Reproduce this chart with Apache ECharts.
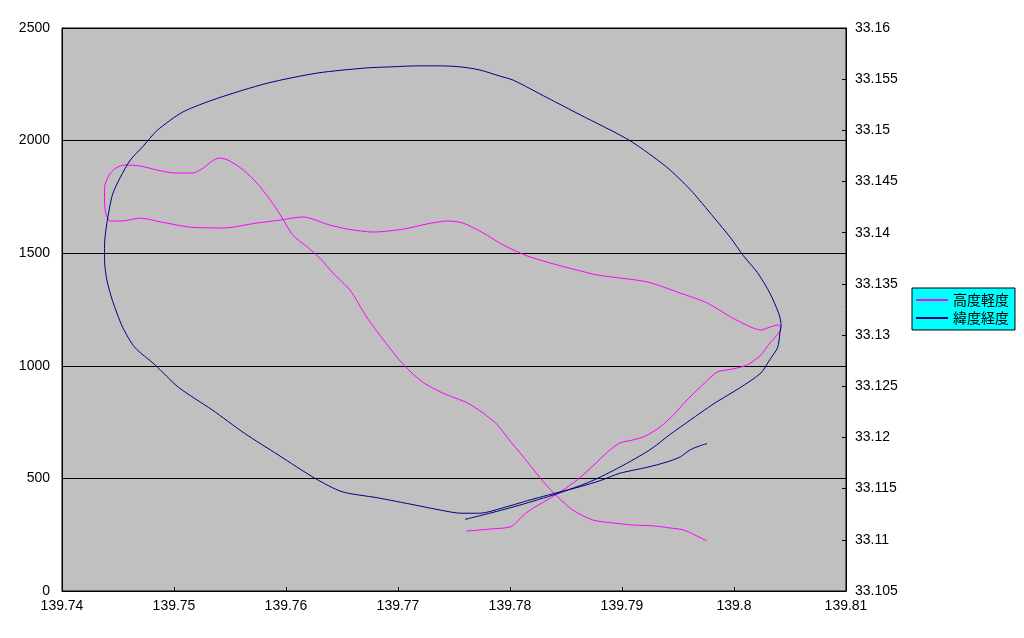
<!DOCTYPE html>
<html>
<head>
<meta charset="utf-8">
<script src="https://cdn.jsdelivr.net/npm/echarts@6/dist/echarts.min.js"></script>
<style>
html,body{margin:0;padding:0;background:#fff;}
#chart{width:1024px;height:638px;}
</style>
</head>
<body>
<div id="chart"></div>
<script>
// Series names
const seriesNames = ['高度軽度', '緯度経度'];

// Altitude vs longitude (left axis)
const altLon = [139.7761,139.7782,139.7800,139.7806,139.7812,139.7821,139.7830,139.7839,139.7845,139.7860,139.7874,139.7887,139.7898,139.7910,139.7921,139.7934,139.7946,139.7958,139.7970,139.7985,139.7999,139.8012,139.8024,139.8032,139.8040,139.8042,
139.8039,139.8032,139.8024,139.8015,139.7997,139.7976,139.7952,139.7923,139.7898,139.7878,139.7860,139.7842,139.7818,139.7809,139.7794,139.7776,139.7758,139.7744,139.7726,139.7705,139.7678,139.7655,139.7639,139.7615,139.7595,139.7574,139.7544,139.7514,139.7488,139.7470,139.7454,139.7443,139.7439,139.7438,139.7438,139.7442,139.7448,139.7456,139.7470,139.7485,139.7501,139.7517,139.7526,139.7534,139.7541,139.7550,139.7562,139.7574,139.7586,139.7595,139.7606,139.7619,139.7630,139.7642,139.7657,139.7672,139.7687,139.7705,139.7722,139.7740,139.7762,139.7776,139.7789,139.7798,139.7812,139.7827,139.7839,139.7856,139.7874,139.7892,139.7910,139.7928,139.7943,139.7955,139.7965,139.7976];
const altValues = [266,275,284,306,337,369,395,422,440,493,555,617,657,671,688,728,782,848,906,972,986,1004,1048,1101,1146,1172,
1181,1172,1159,1172,1217,1279,1323,1372,1390,1403,1425,1448,1483,1501,1536,1590,1634,1643,1630,1607,1594,1607,1625,1661,1647,1634,1612,1616,1639,1656,1643,1643,1679,1736,1790,1847,1878,1892,1887,1869,1856,1856,1878,1909,1923,1909,1869,1812,1736,1670,1581,1528,1479,1412,1337,1217,1115,1004,928,879,835,790,737,679,595,502,435,360,315,302,293,289,280,271,249,222];

// Latitude vs longitude (right axis)
const latLon = [139.7760,139.7782,139.7809,139.7842,139.7872,139.7898,139.7925,139.7943,139.7961,139.7982,139.8006,139.8024,139.8032,139.8039,139.8041,139.8042,139.8040,139.8032,139.8021,139.8008,139.7997,139.7982,139.7961,139.7940,139.7907,139.7863,139.7833,139.7803,139.7791,139.7773,139.7756,139.7738,139.7717,139.7693,139.7672,139.7628,139.7583,139.7538,139.7508,139.7485,139.7472,139.7461,139.7452,139.7445,139.7440,139.7438,139.7438,139.7440,139.7445,139.7454,139.7465,139.7483,139.7504,139.7534,139.7563,139.7593,139.7626,139.7650,139.7682,139.7715,139.7738,139.7756,139.7773,139.7796,139.7818,139.7842,139.7863,139.7881,139.7898,139.7923,139.7940,139.7952,139.7961,139.7970,139.7976];
const latValues = [33.1120,33.1126,33.1134,33.1145,33.1157,33.1171,33.1188,33.1203,33.1217,33.1233,33.1249,33.1263,33.1276,33.1288,33.1302,33.1310,33.1321,33.1341,33.1361,33.1378,33.1395,33.1415,33.1442,33.1464,33.1490,33.1515,33.1532,33.1549,33.1553,33.1559,33.1562,33.1563,33.1563,33.1562,33.1561,33.1556,33.1546,33.1531,33.1518,33.1500,33.1484,33.1471,33.1454,33.1437,33.1409,33.1388,33.1373,33.1354,33.1334,33.1308,33.1288,33.1271,33.1249,33.1227,33.1204,33.1183,33.1160,33.1147,33.1141,33.1134,33.1129,33.1126,33.1126,33.1132,33.1139,33.1146,33.1152,33.1158,33.1165,33.1171,33.1176,33.1181,33.1188,33.1192,33.1194];

// Axis ranges / ticks
const xRange = [139.74, 139.81, 0.01];
const leftRange = [0, 2500, 500];
const rightRange = [33.105, 33.16, 0.005];

const chart = echarts.init(document.getElementById('chart'), null, {renderer: 'canvas'});
const numFont = 'Liberation Sans';
const labelStyle = {color: '#000', fontSize: 14, fontFamily: numFont};

chart.setOption({
  animation: false,
  backgroundColor: '#ffffff',
  grid: {
    left: 62, right: 178, top: 28, bottom: 47,
    show: true, backgroundColor: '#c0c0c0', borderColor: '#000', borderWidth: 1
  },
  legend: {
    orient: 'vertical',
    left: 912, top: 288,
    backgroundColor: '#00ffff',
    borderColor: '#000', borderWidth: 1,
    padding: [5, 6, 5, 4],
    itemGap: 4,
    itemWidth: 32, itemHeight: 2,
    icon: 'rect',
    textStyle: {color: '#000', fontSize: 14, fontFamily: 'Noto Sans CJK JP'},
    data: seriesNames
  },
  xAxis: {
    type: 'value', min: xRange[0], max: xRange[1], interval: xRange[2],
    axisLine: {show: true, lineStyle: {color: '#000', width: 1}},
    axisTick: {show: true, inside: true, length: 4, lineStyle: {color: '#000'}},
    splitLine: {show: false},
    axisLabel: Object.assign({margin: 8, formatter: v => String(+v.toFixed(2))}, labelStyle)
  },
  yAxis: [{
    type: 'value', min: leftRange[0], max: leftRange[1], interval: leftRange[2],
    position: 'left',
    axisLine: {show: true, lineStyle: {color: '#000', width: 1}},
    axisTick: {show: true, inside: true, length: 4, lineStyle: {color: '#000'}},
    splitLine: {show: true, lineStyle: {color: '#000', width: 1}},
    axisLabel: Object.assign({margin: 12, formatter: v => String(Math.round(v))}, labelStyle)
  }, {
    type: 'value', min: rightRange[0], max: rightRange[1], interval: rightRange[2],
    position: 'right',
    axisLine: {show: true, lineStyle: {color: '#000', width: 1}},
    axisTick: {show: true, inside: true, length: 4, lineStyle: {color: '#000'}},
    splitLine: {show: false},
    axisLabel: Object.assign({margin: 9, formatter: v => String(+v.toFixed(3))}, labelStyle)
  }],
  series: [{
    name: seriesNames[0], type: 'line', yAxisIndex: 0,
    data: altLon.map((x, i) => [x, altValues[i]]),
    showSymbol: false, symbol: 'none', smooth: 0.25,
    lineStyle: {color: '#ff00ff', width: 1},
    itemStyle: {color: '#ff00ff'}
  }, {
    name: seriesNames[1], type: 'line', yAxisIndex: 1,
    data: latLon.map((x, i) => [x, latValues[i]]),
    showSymbol: false, symbol: 'none', smooth: 0.25,
    lineStyle: {color: '#000080', width: 1},
    itemStyle: {color: '#000080'}
  }]
});
</script>
</body>
</html>
